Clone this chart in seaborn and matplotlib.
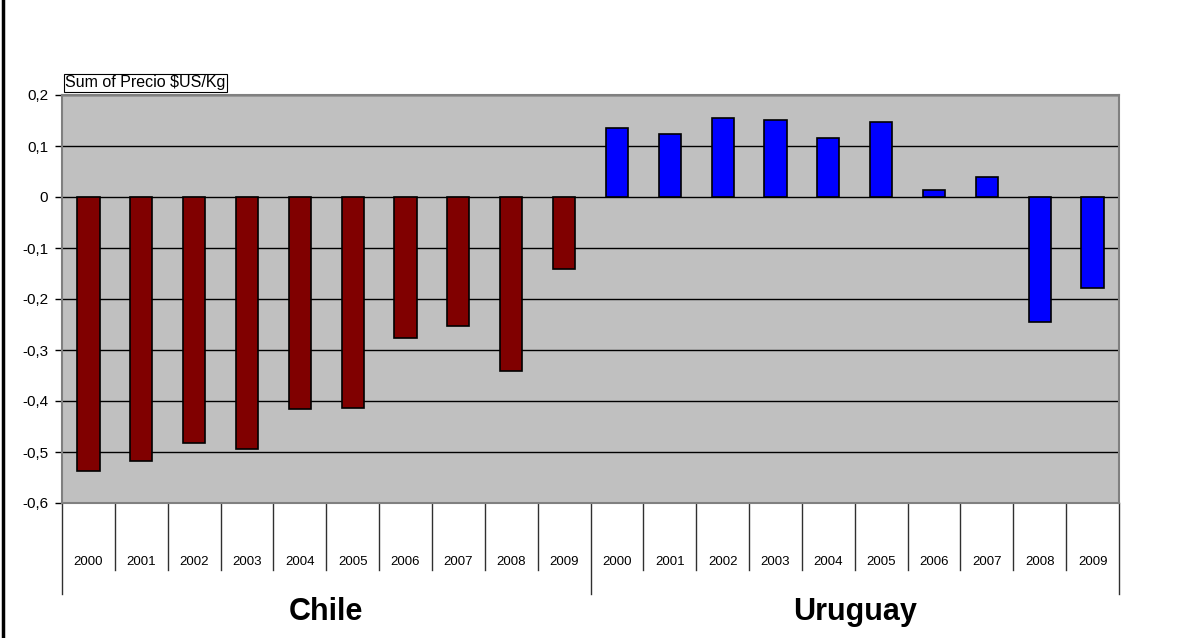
import seaborn as sns
import matplotlib.pyplot as plt
import pandas as pd
from matplotlib.lines import Line2D
import matplotlib.transforms as mtransforms

plt.rcParams['font.family'] = ['Liberation Sans', 'DejaVu Sans']

# Data
years = [2000, 2001, 2002, 2003, 2004, 2005, 2006, 2007, 2008, 2009]
countries = ['Chile', 'Uruguay']
chile = [-0.538, -0.517, -0.483, -0.494, -0.416, -0.413, -0.277, -0.253, -0.342, -0.141]
uruguay = [0.136, 0.124, 0.155, 0.151, 0.115, 0.147, 0.014, 0.040, -0.245, -0.179]
colors = {'Chile': '#800000', 'Uruguay': '#0000FF'}
yticks = [0.2, 0.1, 0.0, -0.1, -0.2, -0.3, -0.4, -0.5, -0.6]

rows = []
for country, vals in zip(countries, [chile, uruguay]):
    for y, v in zip(years, vals):
        rows.append({'country': country, 'year': y, 'key': f'{country}-{y}', 'value': v})
df = pd.DataFrame(rows)
order = list(df['key'])

W, H = 1190, 638
fig = plt.figure(figsize=(W / 100, H / 100), dpi=100)
ax = fig.add_axes([62 / W, 1 - 503 / H, (1119 - 62) / W, 408 / H])

sns.barplot(data=df, x='key', y='value', hue='country', order=order,
            palette=colors, dodge=False, width=0.42, legend=False,
            edgecolor='black', linewidth=1.2, saturation=1, ax=ax)

ax.set_facecolor('#C0C0C0')
ax.set_xlim(-0.5, len(order) - 0.5)
ax.set_ylim(-0.6, 0.2)
ax.set_yticks(yticks)
ax.set_yticklabels([('%g' % t).replace('.', ',') if t != 0 else '0' for t in yticks], fontsize=11)
ax.yaxis.grid(True, color='black', linewidth=1)
ax.set_axisbelow(True)
ax.tick_params(axis='y', length=5, width=1, color='black', pad=5)
for s in ax.spines.values():
    s.set_color('#808080')
    s.set_linewidth(1.5)

# year labels under each bar
ax.set_xticks(range(len(order)))
ax.set_xticklabels([str(y) for y in df['year']], fontsize=9.5)
ax.tick_params(axis='x', length=0, pad=38)
ax.set_xlabel('')
ax.set_ylabel('')

# category separators
trans = mtransforms.blended_transform_factory(ax.transData, ax.transAxes)
for i in range(len(order) + 1):
    x = i - 0.5
    low = -0.223 if i % len(years) == 0 else -0.164
    ax.add_line(Line2D([x, x], [0, low], transform=trans, color='#303030',
                       linewidth=1, clip_on=False))

# group labels
for g, country in enumerate(countries):
    ax.text(g * len(years) + (len(years) - 1) / 2, -0.267, country, transform=trans,
            ha='center', va='center', fontsize=22, fontweight='bold')

# field button
ax.text(0.003, 1.012, 'Sum of Precio $US/Kg', transform=ax.transAxes, fontsize=11.5,
        ha='left', va='bottom',
        bbox=dict(boxstyle='square,pad=0.1', facecolor='white', edgecolor='black', linewidth=0.8))

# left frame line
fig.add_artist(Line2D([3 / W, 3 / W], [0, 1], color='black', linewidth=2.5))

fig.savefig('out.png', dpi=100)
